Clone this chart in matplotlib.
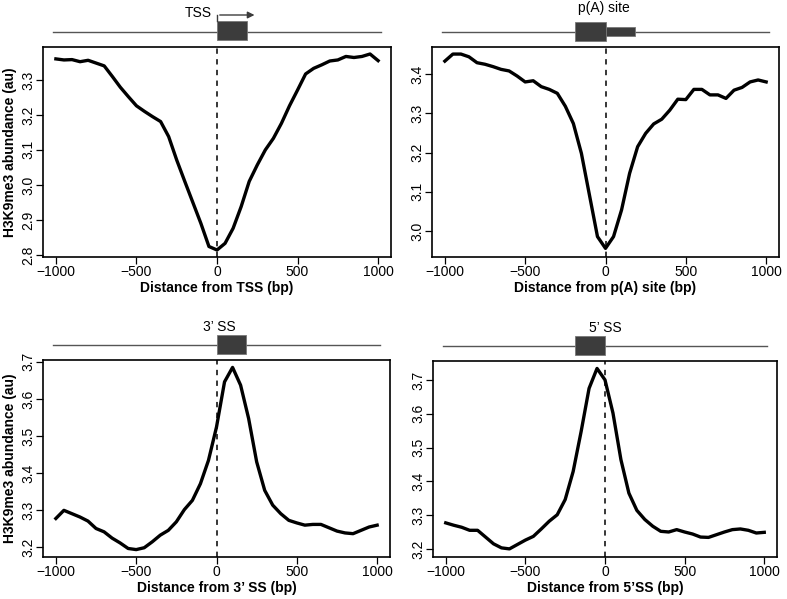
import matplotlib
matplotlib.use('Agg')
import matplotlib.pyplot as plt
import numpy as np

plt.rcParams['font.family'] = ['Liberation Sans', 'DejaVu Sans']

# distance from feature (bp), one point every 50 bp
dist = np.arange(-1000, 1001, 50)

tss_vals = [3.360, 3.357, 3.358, 3.352, 3.356, 3.348, 3.340, 3.310, 3.279, 3.252,
            3.226, 3.210, 3.195, 3.181, 3.138, 3.071, 3.010, 2.950, 2.890, 2.824,
            2.814, 2.833, 2.876, 2.938, 3.010, 3.057, 3.100, 3.133, 3.176, 3.226,
            3.271, 3.317, 3.333, 3.343, 3.354, 3.357, 3.367, 3.364, 3.367, 3.374,
            3.355]
pa_vals = [3.433, 3.451, 3.451, 3.444, 3.429, 3.425, 3.419, 3.412, 3.408, 3.395,
           3.380, 3.383, 3.368, 3.361, 3.351, 3.318, 3.274, 3.198, 3.092, 2.986,
           2.956, 2.986, 3.054, 3.147, 3.215, 3.249, 3.273, 3.285, 3.308, 3.336,
           3.335, 3.361, 3.361, 3.347, 3.347, 3.338, 3.359, 3.366, 3.380, 3.385,
           3.380]
ss3_vals = [3.277, 3.299, 3.290, 3.281, 3.270, 3.250, 3.241, 3.224, 3.211, 3.196,
            3.193, 3.198, 3.214, 3.232, 3.245, 3.268, 3.301, 3.326, 3.371, 3.434,
            3.524, 3.646, 3.685, 3.637, 3.547, 3.430, 3.353, 3.313, 3.290, 3.272,
            3.265, 3.259, 3.261, 3.261, 3.252, 3.243, 3.238, 3.236, 3.245, 3.254,
            3.259]
ss5_vals = [3.277, 3.270, 3.264, 3.255, 3.255, 3.235, 3.215, 3.203, 3.200, 3.213,
            3.226, 3.237, 3.259, 3.282, 3.301, 3.346, 3.429, 3.547, 3.675, 3.734,
            3.700, 3.602, 3.464, 3.365, 3.314, 3.287, 3.267, 3.252, 3.250, 3.257,
            3.250, 3.244, 3.235, 3.234, 3.242, 3.250, 3.257, 3.259, 3.255, 3.247,
            3.249]

x_ticks = [-1000, -500, 0, 500, 1000]
x_labels = ['\u22121000', '\u2212500', '0', '500', '1000']

W, H = 787, 599
DARK = '#3c3c3c'
XLIM = (-1080, 1080)

# (values, x label, y ticks, ylim, axes box in px: left, top, right, bottom, feature)
panels = [
    (tss_vals, 'Distance from TSS (bp)', np.arange(2.8, 3.31, 0.1), (2.794, 3.394),
     (43, 47, 391, 257), 'tss'),
    (pa_vals, 'Distance from p(A) site (bp)', np.arange(3.0, 3.41, 0.1), (2.934, 3.469),
     (432, 47, 779, 257), 'pa'),
    (ss3_vals, 'Distance from 3\u2019 SS (bp)', np.arange(3.2, 3.71, 0.1), (3.173, 3.705),
     (43, 360, 390, 557), 'ss3'),
    (ss5_vals, 'Distance from 5\u2019SS (bp)', np.arange(3.2, 3.71, 0.1), (3.176, 3.756),
     (433, 361, 777, 557), 'ss5'),
]

fig = plt.figure(figsize=(W / 100, H / 100), dpi=100)


def px_box(l, t, r, b):
    return [l / W, 1 - b / H, (r - l) / W, (b - t) / H]


def draw_gene(l, t, r, kind):
    """Schematic above each panel; y in px offset above axes top."""
    top = t - 47
    dax = fig.add_axes(px_box(l, top, r, t))
    dax.set_xlim(*XLIM)
    dax.set_ylim(47, 0)  # px from top of this strip
    dax.axis('off')
    dax.plot([-1020, 1020], [32, 32], color='#555555', lw=1.0, zorder=1)
    if kind == 'tss':
        dax.add_patch(plt.Rectangle((0, 21), 185, 19, facecolor=DARK, edgecolor='#777777', lw=0.6, zorder=2))
        dax.plot([0, 0], [21, 15], color=DARK, lw=1.0)
        dax.annotate('', xy=(250, 15), xytext=(0, 15),
                     arrowprops=dict(arrowstyle='-|>', color=DARK, lw=1.0, mutation_scale=10))
        dax.text(-117, 13, 'TSS', ha='center', va='center', fontsize=10)
    elif kind == 'pa':
        dax.add_patch(plt.Rectangle((-190, 22), 190, 19, facecolor=DARK, edgecolor='#777777', lw=0.6, zorder=2))
        dax.add_patch(plt.Rectangle((0, 27), 185, 9, facecolor=DARK, edgecolor='#777777', lw=0.6, zorder=2))
        dax.text(-10, 8, 'p(A) site', ha='center', va='center', fontsize=10)
    elif kind == 'ss3':
        dax.add_patch(plt.Rectangle((0, 22), 185, 19, facecolor=DARK, edgecolor='#777777', lw=0.6, zorder=2))
        dax.text(20, 14, '3\u2019 SS', ha='center', va='center', fontsize=10)
    else:
        dax.add_patch(plt.Rectangle((-190, 22), 190, 19, facecolor=DARK, edgecolor='#777777', lw=0.6, zorder=2))
        dax.text(0, 14, '5\u2019 SS', ha='center', va='center', fontsize=10)


for i, (vals, xlab, yt, ylim, box, kind) in enumerate(panels):
    ax = fig.add_axes(px_box(*box))
    ax.plot(dist, vals, color='black', lw=2.4, solid_joinstyle='round')
    ax.axvline(0, color='black', lw=1.1, ls=(0, (3.5, 3.5)))
    ax.set_xlim(*XLIM)
    ax.set_ylim(*ylim)
    ax.set_xticks(x_ticks)
    ax.set_xticklabels(x_labels)
    ax.set_yticks(yt)
    ax.set_yticklabels([f'{v:.1f}' for v in yt], rotation=90, va='center')
    ax.tick_params(axis='both', labelsize=10, length=5, width=0.9, pad=0.8)
    for s in ax.spines.values():
        s.set_linewidth(1.2)
    ax.set_xlabel(xlab, fontsize=10, fontweight='bold', labelpad=1.5)
    if i % 2 == 0:
        ax.set_ylabel('H3K9me3 abundance (au)', fontsize=10, fontweight='bold', labelpad=3)
    draw_gene(box[0], box[1], box[2], kind)

fig.savefig('out.png', dpi=100)
